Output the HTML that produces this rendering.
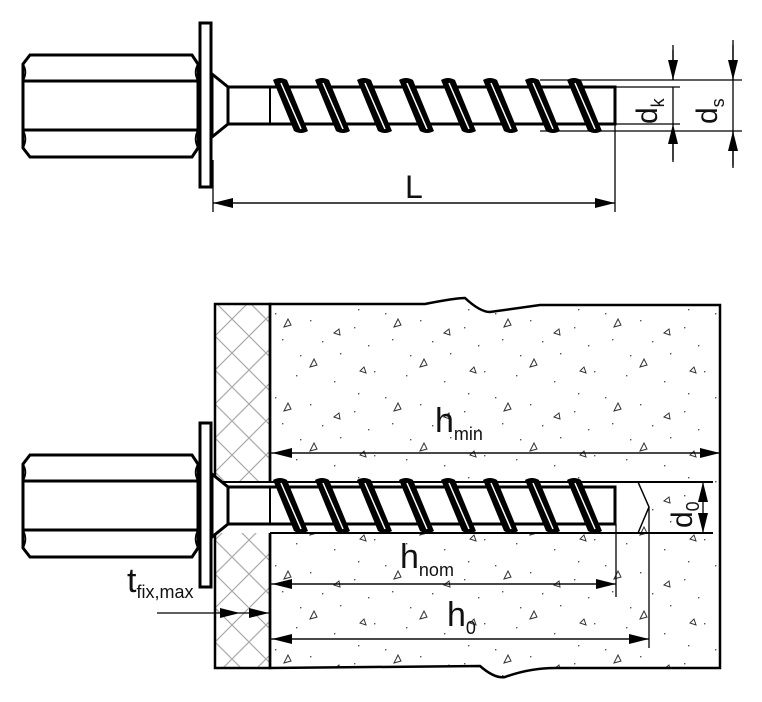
<!DOCTYPE html>
<html><head><meta charset="utf-8"><style>
html,body{margin:0;padding:0;background:#fff;}
svg{display:block;}
text{font-family:"Liberation Sans",sans-serif;fill:#111;}
</style></head><body>
<svg width="762" height="702" viewBox="0 0 762 702" xmlns="http://www.w3.org/2000/svg">
<defs>
<pattern id="hatch" width="34" height="34" patternUnits="userSpaceOnUse" x="215" y="302">
<path d="M0 0L34 34M34 0L0 34" stroke="#aaa" stroke-width="1.2"/>
</pattern>
<pattern id="speck" width="110" height="84" patternUnits="userSpaceOnUse" x="270" y="305">
<g fill="#555">
<rect x="5" y="8" width="1.4" height="1.4"/><rect x="40" y="15" width="1.4" height="1.4"/>
<rect x="88" y="4" width="1.4" height="1.4"/><rect x="12" y="34" width="1.4" height="1.4"/>
<rect x="70" y="48" width="1.4" height="1.4"/><rect x="98" y="40" width="1.4" height="1.4"/>
<rect x="26" y="70" width="1.4" height="1.4"/><rect x="64" y="76" width="1.4" height="1.4"/>
<rect x="52" y="36" width="1.4" height="1.4"/><rect x="84" y="22" width="1.4" height="1.4"/>
<rect x="30" y="50" width="1.4" height="1.4"/><rect x="104" y="66" width="1.4" height="1.4"/>
</g>
<g fill="none" stroke="#333" stroke-width="1">
<path d="M14 22l7 -2l-3 -6z"/><path d="M64 28l6 2l-1 -6z"/>
<path d="M40 62l7 -2l-3 -6z"/><path d="M90 66l6 2l-2 -6z"/>
</g>
</pattern>
<marker id="ah" viewBox="0 0 20 10" refX="20" refY="5" markerWidth="20" markerHeight="10" markerUnits="userSpaceOnUse" orient="auto">
<path d="M0 0L20 5L0 10z" fill="#000"/>
</marker>
<g id="th">
<path d="M273 80Q280 76 287 80L308 131Q301 135 294 131Z" fill="#000"/>
<path d="M281 83L301 129" stroke="#fff" stroke-width="1.5"/>
</g>
<g id="screw">
<path d="M30 55H192L198 64V148L192 157H30L23 148V64Z" fill="#fff" stroke="#000" stroke-width="3"/>
<path d="M23 81H198M23 130H198" stroke="#000" stroke-width="3"/>
<path d="M198 64Q193 72 198 81M198 130Q193 139 198 148M23 64Q28 72 23 81M23 130Q28 139 23 148" fill="none" stroke="#000" stroke-width="1.5"/>
<rect x="200" y="23" width="11" height="164" fill="#fff" stroke="#000" stroke-width="3"/>
<path d="M212 74L228 87V124L212 137Z" fill="#fff" stroke="#000" stroke-width="3"/>
<path d="M228 87H615V124H228Z" fill="#fff" stroke="#000" stroke-width="3"/>
<path d="M270 87V124" stroke="#000" stroke-width="2"/>
<use href="#th"/><use href="#th" x="42"/><use href="#th" x="84"/><use href="#th" x="126"/>
<use href="#th" x="168"/><use href="#th" x="210"/><use href="#th" x="252"/><use href="#th" x="294"/>
</g>
</defs>

<rect x="215" y="304" width="55" height="364" fill="url(#hatch)" stroke="#000" stroke-width="2.5"/>
<path d="M270 304H425Q455 298 465 298Q480 312 490 312L540 305H720V668H555Q530 668 505 677Q495 679 480 666L270 668Z" fill="url(#speck)" stroke="#000" stroke-width="2.5"/>
<path d="M216 482H638L649 507L638 533H216Z" fill="#fff"/>
<path d="M212 482H713M270 533H713M270 533V668M270 304V482" stroke="#000" stroke-width="2" fill="none"/>
<path d="M638 482L649 507L638 533" stroke="#000" stroke-width="1.5" fill="none"/>

<use href="#screw"/>
<use href="#screw" y="400"/>

<g stroke="#000" stroke-width="1.3" fill="none">
<path d="M213 160V212M615 124V212"/>
<path d="M540 80H742M540 131H742M615 87H680M615 124H680"/>
<path d="M673 45V80M673 131V162M733 40V80M733 131V168"/>
<path d="M673 87V124M733 80V131"/>
<path d="M615 203H213" marker-end="url(#ah)"/>
<path d="M213 203H615" marker-end="url(#ah)"/>
<path d="M673 50V80" marker-end="url(#ah)"/>
<path d="M673 160V124" marker-end="url(#ah)"/>
<path d="M733 45V80" marker-end="url(#ah)"/>
<path d="M733 166V131" marker-end="url(#ah)"/>
</g>
<text x="405" y="198" font-size="32">L</text>
<text transform="translate(657,124) rotate(-90)" font-size="30">d<tspan font-size="18" dy="7">k</tspan></text>
<text transform="translate(717,124) rotate(-90)" font-size="30">d<tspan font-size="18" dy="7">s</tspan></text>

<g stroke="#000" stroke-width="1.3" fill="none">
<path d="M616 524V597M649 507V648"/>
<path d="M270 453H720" marker-end="url(#ah)"/>
<path d="M720 453H272" marker-end="url(#ah)"/>
<path d="M270 584H616" marker-end="url(#ah)"/>
<path d="M616 584H272" marker-end="url(#ah)"/>
<path d="M270 639H649" marker-end="url(#ah)"/>
<path d="M649 639H272" marker-end="url(#ah)"/>
<path d="M703 507V482" marker-end="url(#ah)"/>
<path d="M703 507V533" marker-end="url(#ah)"/>
<path d="M157 613H240" marker-end="url(#ah)"/>
<path d="M240 613H269" marker-end="url(#ah)"/>
</g>
<text x="435" y="432" font-size="34">h<tspan font-size="18" dy="8">min</tspan></text>
<text x="400" y="568" font-size="34">h<tspan font-size="18" dy="8">nom</tspan></text>
<text x="447" y="626" font-size="34">h<tspan font-size="18" dy="8">0</tspan></text>
<text transform="translate(692,528) rotate(-90)" font-size="30">d<tspan font-size="18" dy="7">0</tspan></text>
<text x="127" y="592" font-size="34">t<tspan font-size="18" dy="6">fix,max</tspan></text>
</svg>
</body></html>
